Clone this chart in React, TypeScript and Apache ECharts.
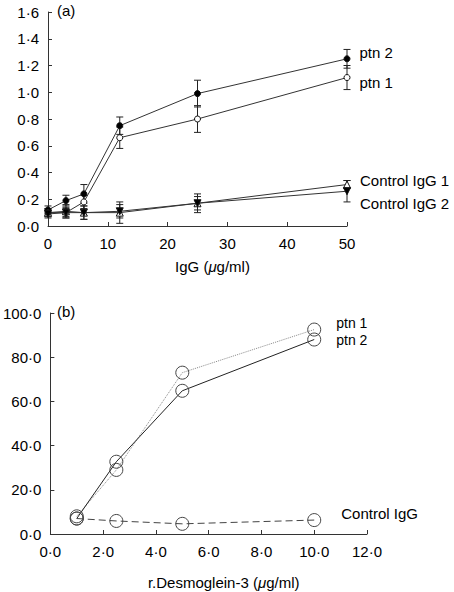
import React, { useEffect, useRef } from "react";
import * as echarts from "echarts";

// Panel (a): IgG concentration (µg/ml)
const iggDose = [0, 3, 6, 12, 25, 50];
const ptn2A = [0.12, 0.19, 0.24, 0.75, 0.99, 1.25];
const ptn2AErr = [0.03, 0.04, 0.07, 0.065, 0.1, 0.07];
const ptn1A = [0.1, 0.1, 0.18, 0.66, 0.8, 1.11];
const ptn1AErr = [0.03, 0.03, 0.05, 0.08, 0.1, 0.09];
const ctrl1A = [0.1, 0.11, 0.1, 0.1, 0.17, 0.31];
const ctrl1AErr = [0.03, 0.05, 0.05, 0.08, 0.07, 0.03];
const ctrl2A = [0.09, 0.1, 0.1, 0.11, 0.17, 0.26];
const ctrl2AErr = [0.03, 0.04, 0.05, 0.05, 0.05, 0.08];
const xTicksA = [0, 10, 20, 30, 40, 50];
const yTicksA = [0, 0.2, 0.4, 0.6, 0.8, 1.0, 1.2, 1.4, 1.6];

// Panel (b): r.Desmoglein-3 (µg/ml)
const dsgDose = [1, 2.5, 5, 10];
const ptn1B = [8.0, 29.0, 73.0, 92.5];
const ptn2B = [7.0, 32.7, 64.8, 88.0];
const ctrlB = [7.0, 5.9, 4.6, 6.3];
const xTicksB = [0, 2, 4, 6, 8, 10, 12];
const yTicksB = [0, 20, 40, 60, 80, 100];

const FONT = "Liberation Sans, Arial, sans-serif";
const dot = (v: number, d: number) => v.toFixed(d).replace(".", "\u00b7");

function pairs(xs: number[], ys: number[]) {
  return xs.map((x, i) => [x, ys[i]]);
}

function withEndLabel(xs: number[], ys: number[], text: string, offset: number[], fontSize = 15) {
  const d: any[] = pairs(xs, ys);
  const last = d.length - 1;
  d[last] = {
    value: d[last],
    label: {
      show: true,
      position: "right",
      formatter: text,
      offset,
      color: "#000",
      fontSize,
      lineHeight: fontSize - 2,
      fontFamily: FONT,
    },
  };
  return d;
}

function errData(xs: number[], ys: number[], es: number[]) {
  return xs.map((x, i) => [x, ys[i] - es[i], ys[i] + es[i]]);
}

function errSeries(data: number[][]) {
  return {
    type: "custom",
    xAxisIndex: 0,
    yAxisIndex: 0,
    z: 1,
    data,
    renderItem: (params: any, api: any) => {
      const x = api.value(0);
      const lo = api.coord([x, api.value(1)]);
      const hi = api.coord([x, api.value(2)]);
      const w = 3.5;
      const st = { stroke: "#222", lineWidth: 1 };
      return {
        type: "group",
        children: [
          { type: "line", shape: { x1: lo[0], y1: lo[1], x2: hi[0], y2: hi[1] }, style: st },
          { type: "line", shape: { x1: lo[0] - w, y1: lo[1], x2: lo[0] + w, y2: lo[1] }, style: st },
          { type: "line", shape: { x1: hi[0] - w, y1: hi[1], x2: hi[0] + w, y2: hi[1] }, style: st },
        ],
      };
    },
    encode: { x: 0, y: [1, 2] },
  };
}

const axisCommon = {
  axisLine: { show: true, lineStyle: { color: "#333", width: 1 } },
  axisTick: { show: true, inside: true, length: 4, lineStyle: { color: "#333" } },
  splitLine: { show: false },
};

const nameStyle = {
  color: "#000",
  fontSize: 15,
  fontFamily: FONT,
  padding: [0, 0, 0, 30],
  rich: { i: { fontStyle: "italic", fontSize: 15, fontFamily: FONT } },
};

export default function App() {
  const ref = useRef<HTMLDivElement>(null);
  useEffect(() => {
    document.body.style.margin = "0";
    if (!ref.current) return;
    const chart = echarts.init(ref.current, undefined, { renderer: "svg" });
    const lineA = (name: string, ys: number[], label: string, off: number[], symbol: string, fill: string, rot = 0) => ({
      name,
      type: "line",
      xAxisIndex: 0,
      yAxisIndex: 0,
      z: 3,
      data: withEndLabel(iggDose, ys, label, off),
      symbol,
      symbolSize: symbol === "triangle" ? 7 : 6,
      symbolRotate: rot,
      showAllSymbol: true,
      lineStyle: { color: "#333", width: 1 },
      itemStyle: { color: fill, borderColor: "#111", borderWidth: 1 },
    });
    const lineB = (name: string, ys: number[], label: string, off: number[], type: any, color: string, fs = 15) => ({
      name,
      type: "line",
      xAxisIndex: 1,
      yAxisIndex: 1,
      data: withEndLabel(dsgDose, ys, label, off, fs),
      symbol: "circle",
      symbolSize: 13,
      showAllSymbol: true,
      lineStyle: { color, width: 1, type },
      itemStyle: { color: "rgba(255,255,255,0)", borderColor: "#444", borderWidth: 1 },
    });
    chart.setOption({
      animation: false,
      backgroundColor: "#fff",
      textStyle: { fontFamily: FONT },
      grid: [
        { left: 48, top: 12, width: 299, height: 214 },
        { left: 48, top: 313, width: 319, height: 221 },
      ],
      xAxis: [
        {
          gridIndex: 0,
          type: "value",
          min: 0,
          max: 50,
          interval: 10,
          ...axisCommon,
          axisLabel: { color: "#000", fontSize: 15, margin: 10, fontFamily: FONT, formatter: (v: number) => String(v) },
          name: "IgG ({i|\u03bc}g/ml)",
          nameLocation: "middle",
          nameGap: 33,
          nameTextStyle: nameStyle,
        },
        {
          gridIndex: 1,
          type: "value",
          min: 0,
          max: 12,
          interval: 2,
          ...axisCommon,
          axisLabel: { color: "#000", fontSize: 15, margin: 10, fontFamily: FONT, formatter: (v: number) => dot(v, 1) },
          name: "r.Desmoglein-3 ({i|\u03bc}g/ml)",
          nameLocation: "middle",
          nameGap: 41,
          nameTextStyle: nameStyle,
        },
      ],
      yAxis: [
        {
          gridIndex: 0,
          type: "value",
          min: 0,
          max: 1.6,
          interval: 0.2,
          ...axisCommon,
          axisLabel: { color: "#000", fontSize: 15, margin: 9, fontFamily: FONT, formatter: (v: number) => dot(v, 1) },
        },
        {
          gridIndex: 1,
          type: "value",
          min: 0,
          max: 100,
          interval: 20,
          ...axisCommon,
          axisLabel: { color: "#000", fontSize: 15, margin: 9, fontFamily: FONT, formatter: (v: number) => dot(v, 1) },
        },
      ],
      graphic: [
        { type: "text", left: 57, top: 3, style: { text: "(a)", fontSize: 15, fontFamily: FONT, fill: "#000" } },
        { type: "text", left: 57, top: 304, style: { text: "(b)", fontSize: 15, fontFamily: FONT, fill: "#000" } },
      ],
      series: [
        errSeries(errData(iggDose, ptn2A, ptn2AErr)),
        errSeries(errData(iggDose, ptn1A, ptn1AErr)),
        errSeries(errData(iggDose, ctrl1A, ctrl1AErr)),
        errSeries(errData(iggDose, ctrl2A, ctrl2AErr)),
        lineA("ptn 2", ptn2A, "ptn 2", [4, -6], "circle", "#000"),
        lineA("ptn 1", ptn1A, "ptn 1", [4, 5], "circle", "#fff"),
        lineA("Control IgG 1", ctrl1A, "Control IgG 1", [4, -4], "triangle", "#fff"),
        lineA("Control IgG 2", ctrl2A, "Control IgG 2", [4, 12], "triangle", "#000", 180),
        lineB("ptn 1", ptn1B, "ptn 1", [10, -7], "dotted", "#888", 14),
        lineB("ptn 2", ptn2B, "ptn 2", [10, 0], "solid", "#222", 14),
        lineB("Control IgG", ctrlB, "Control IgG", [15, -7], [7, 4], "#444"),
      ],
    });
    return () => chart.dispose();
  }, []);
  return <div ref={ref} style={{ width: 454, height: 592 }} />;
}
